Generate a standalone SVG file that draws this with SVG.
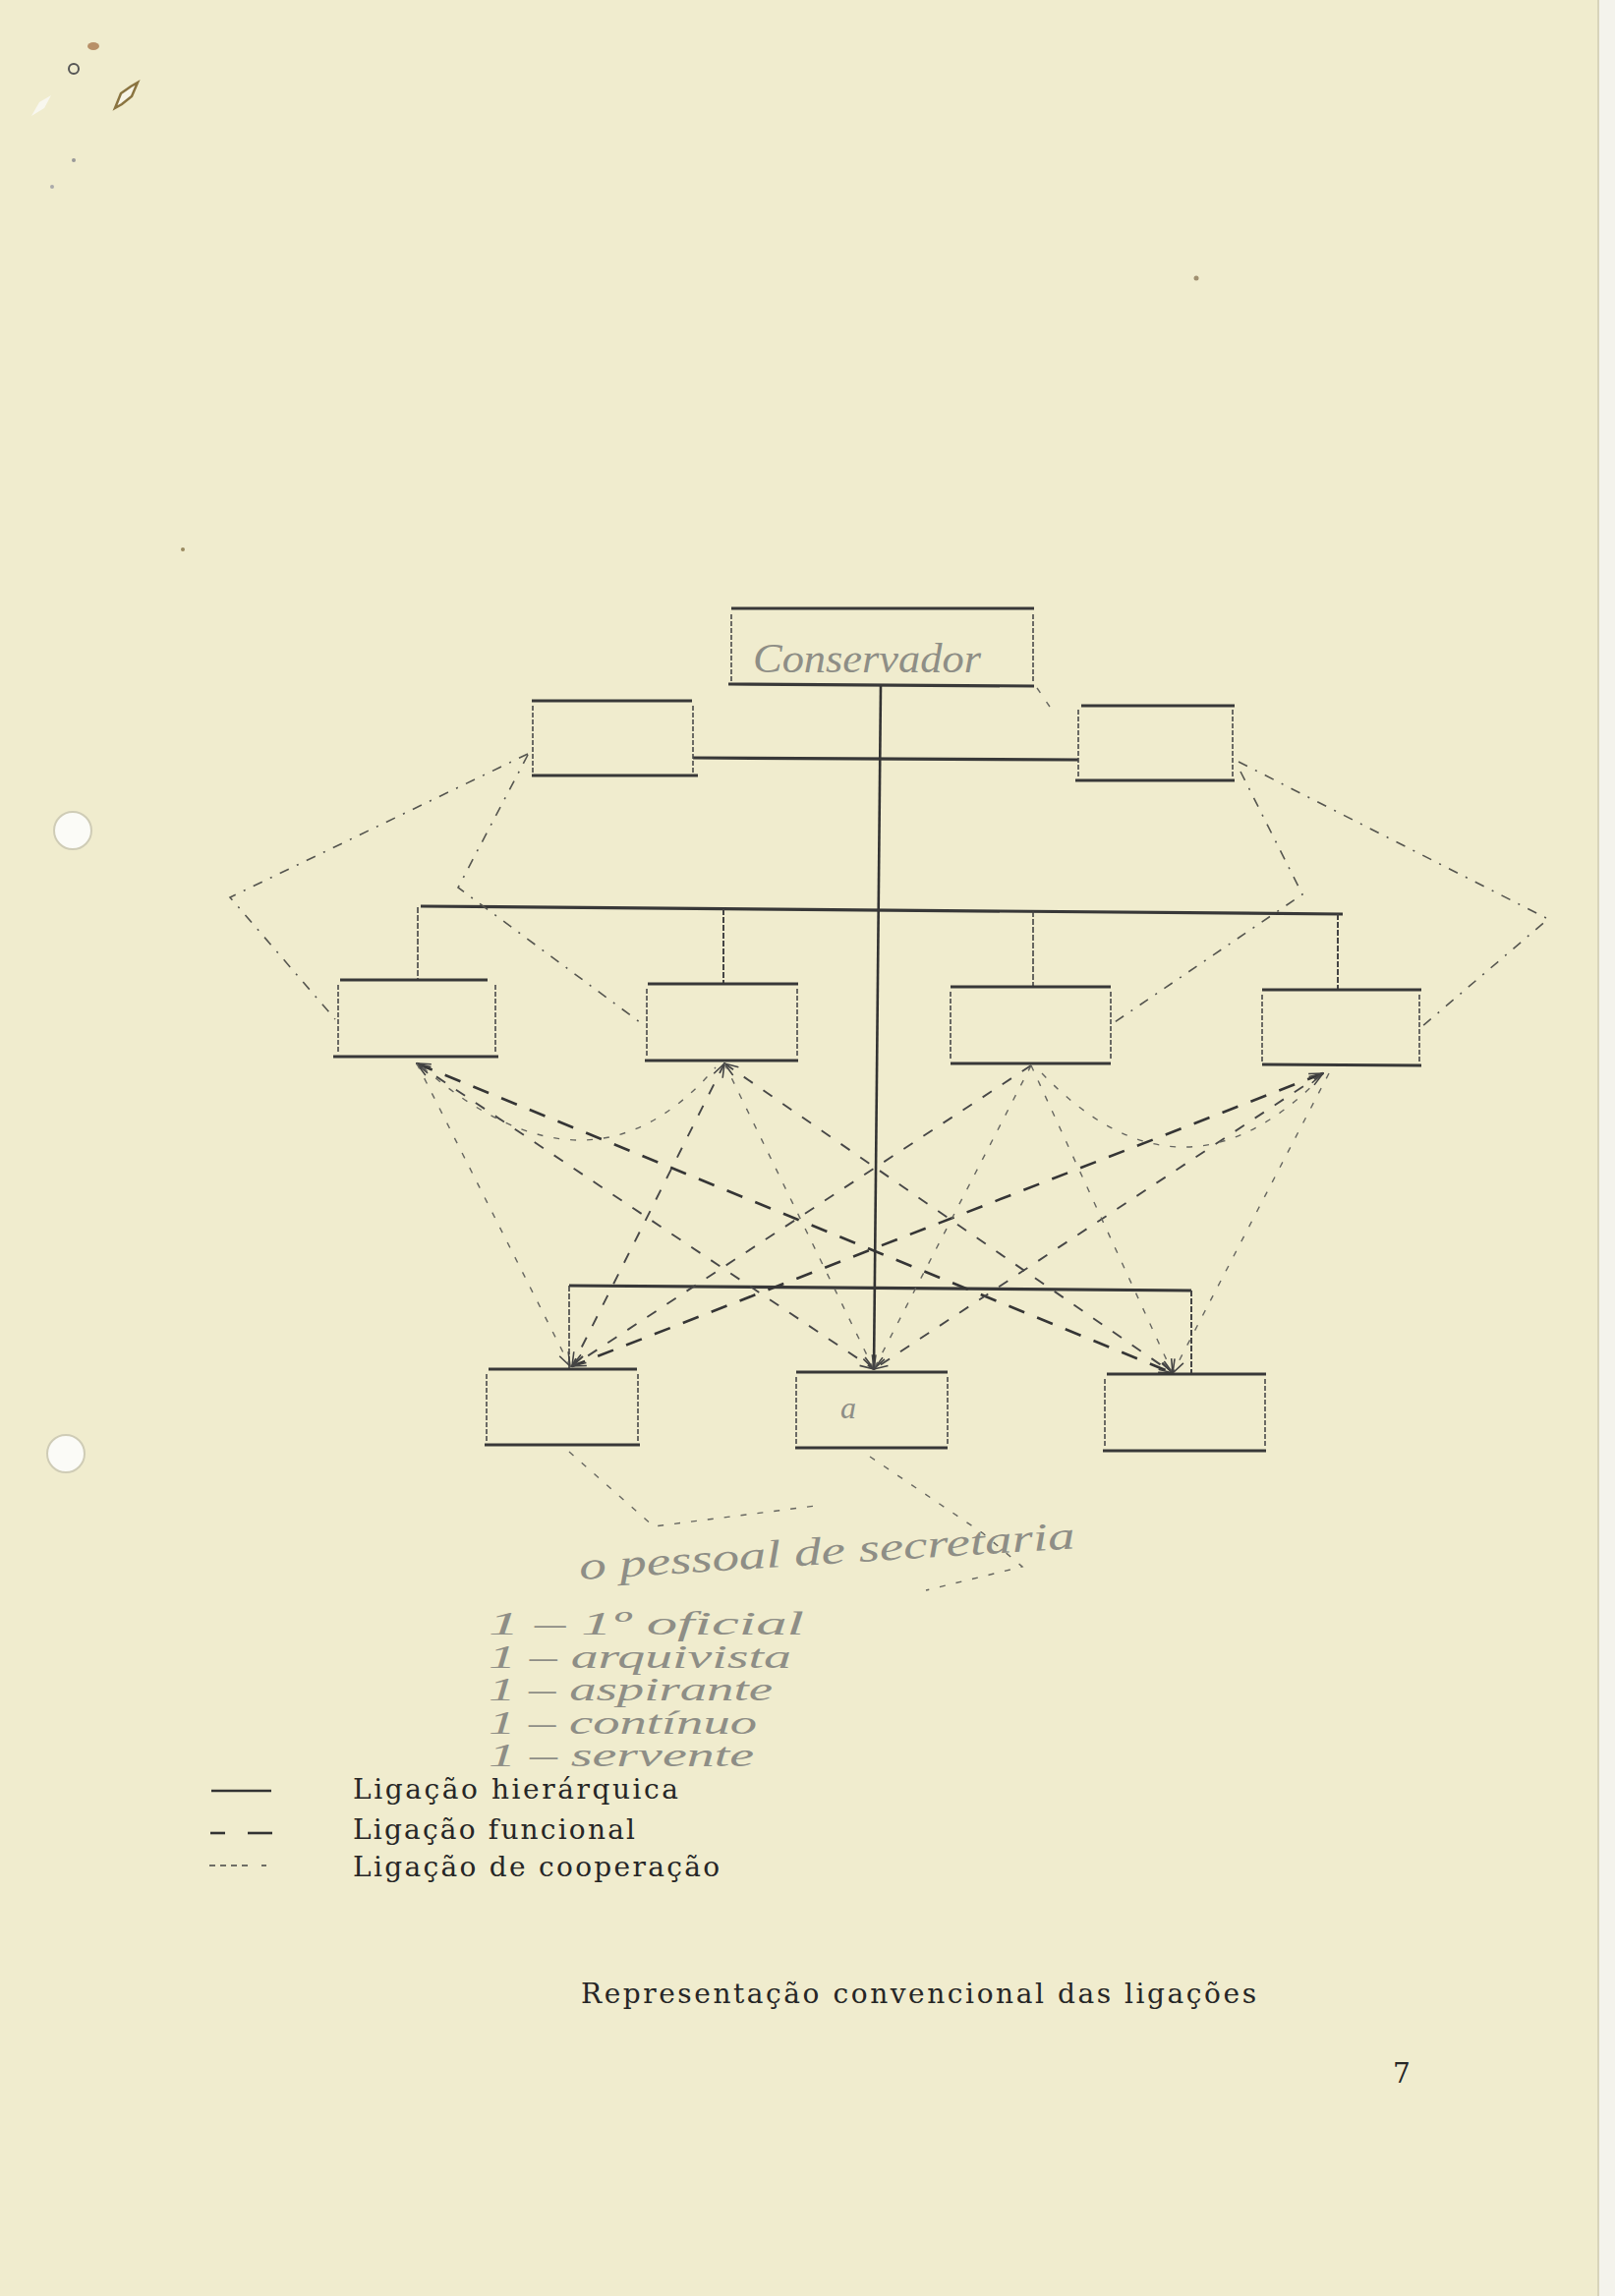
<svg xmlns="http://www.w3.org/2000/svg" width="1643" height="2336" viewBox="0 0 1643 2336">
<defs>
<style>
.bt{stroke:#383838;stroke-width:3.2;fill:none}
.bs{stroke:#4a4a4a;stroke-width:1.6;stroke-dasharray:5 2;fill:none}
.hier{stroke:#333;stroke-width:2.6;fill:none}
.drop{stroke:#444;stroke-width:1.6;stroke-dasharray:6 2;fill:none}
.funH{stroke:#353535;stroke-width:2.6;stroke-dasharray:17 14;fill:none}
.fun{stroke:#474747;stroke-width:1.9;stroke-dasharray:11 13;fill:none}
.coop{stroke:#666660;stroke-width:1.4;stroke-dasharray:6 11;fill:none}
.coop2{stroke:#55554f;stroke-width:1.6;stroke-dasharray:10 9 2 9;fill:none}
.hand{font-family:"Liberation Serif",serif;font-style:italic;fill:#8e8e86}
.type{font-family:"DejaVu Serif","Liberation Serif",serif;fill:#262626;font-size:28px}
</style>
<marker id="ah" viewBox="0 0 16 12" refX="15" refY="6" markerWidth="16" markerHeight="12" markerUnits="userSpaceOnUse" orient="auto-start-reverse">
<path d="M1,1 L15,6 L1,11" fill="none" stroke="#444" stroke-width="1.6"/>
</marker>
</defs>

<g id="paper">
<rect x="0" y="0" width="1643" height="2336" fill="#f0ecce"/>
<rect x="1626" y="0" width="17" height="2336" fill="#f4f3ec"/>
<line x1="1626" y1="0" x2="1626" y2="2336" stroke="#d8d4bb" stroke-width="2"/>
<circle cx="74" cy="845" r="19" fill="#fbfbf7" stroke="#cfccb6" stroke-width="2"/>
<circle cx="67" cy="1479" r="19" fill="#fbfbf7" stroke="#cfccb6" stroke-width="2"/>
<circle cx="75" cy="70" r="5" fill="none" stroke="#555" stroke-width="2"/>
<path d="M117,110 L123,95 L133,88 L140,84 L134,98 L124,106 Z" fill="#f8f5e6" stroke="#8a7440" stroke-width="2.5"/>
<ellipse cx="95" cy="47" rx="6" ry="4" fill="#b89068"/>
<path d="M32,118 L40,104 L52,97 L45,110 Z" fill="#f8f7ef"/>
<circle cx="75" cy="163" r="2" fill="#999"/>
<circle cx="53" cy="190" r="2" fill="#aaa"/>
<circle cx="186" cy="559" r="2" fill="#9a8a60"/>
<circle cx="1217" cy="283" r="2.5" fill="#a09070"/>
</g>

<g id="connectors">
<g id="hierarchy">
<path class="hier" d="M896,697 L889,1394"/>
<path class="bt" d="M705,771 L1097,773"/>
<path class="bt" d="M428,922 L1366,930"/>
<path class="drop" d="M425,923 L425,997"/>
<path class="drop" d="M736,925 L736,1001" style="stroke-width:2"/>
<path class="drop" d="M1051,927 L1051,1004"/>
<path class="drop" d="M1361,930 L1361,1007" style="stroke-width:2"/>
<path class="bt" d="M579,1308 L1212,1313"/>
<path class="drop" d="M579,1308 L579,1393"/>
<path class="drop" d="M1212,1313 L1212,1398" style="stroke-width:2"/>
</g>
<g id="cooperation-outer">
<path class="coop2" d="M537,767 L234,913 L341,1037"/>
<path class="coop2" d="M537,768 L466,903 L655,1043"/>
<path class="coop2" d="M1260,775 L1575,935 L1446,1045"/>
<path class="coop2" d="M1262,785 L1325,910 L1131,1042"/>
<path class="coop" d="M1055,700 L1070,722"/>
</g>
<g id="functional">
<line class="funH" x1="424" y1="1082" x2="1193" y2="1397" marker-start="url(#ah)" marker-end="url(#ah)"/>
<line class="funH" x1="1346" y1="1092" x2="582" y2="1390" marker-start="url(#ah)" marker-end="url(#ah)"/>
<line class="fun" x1="424" y1="1082" x2="889" y2="1393" marker-start="url(#ah)" marker-end="url(#ah)"/>
<line class="fun" x1="737" y1="1082" x2="582" y2="1390" marker-start="url(#ah)" marker-end="url(#ah)"/>
<line class="fun" x1="737" y1="1082" x2="1193" y2="1397" marker-start="url(#ah)" marker-end="url(#ah)"/>
<line class="fun" x1="1049" y1="1084" x2="582" y2="1390" marker-end="url(#ah)"/>
<line class="fun" x1="1346" y1="1092" x2="889" y2="1393" marker-start="url(#ah)" marker-end="url(#ah)"/>
</g>
<g id="cooperation">
<line class="coop" x1="424" y1="1082" x2="580" y2="1390" marker-end="url(#ah)"/>
<line class="coop" x1="737" y1="1082" x2="889" y2="1393" marker-end="url(#ah)"/>
<line class="coop" x1="1049" y1="1084" x2="889" y2="1393" marker-end="url(#ah)"/>
<line class="coop" x1="1049" y1="1084" x2="1193" y2="1397" marker-end="url(#ah)"/>
<line class="coop" x1="1352" y1="1092" x2="1193" y2="1397" marker-end="url(#ah)"/>
<path class="coop" d="M430,1086 Q601,1234 728,1086"/>
<path class="coop" d="M1060,1092 Q1200,1238 1340,1100"/>
<path class="coop" d="M579,1477 L665,1553 L830,1532"/>
<path class="coop" d="M885,1482 L1000,1560 L1040,1594 L942,1618"/>
</g>
</g>

<g id="node-conservador">
<line class="bt" x1="744" y1="619" x2="1052" y2="619"/>
<line class="bt" x1="741" y1="696" x2="1052" y2="698"/>
<line class="bs" x1="744" y1="625" x2="744" y2="693"/>
<line class="bs" x1="1051" y1="625" x2="1051" y2="693"/>
<text class="hand" x="766" y="684" font-size="42" textLength="232" lengthAdjust="spacingAndGlyphs">Conservador</text>
</g>
<g id="node-upper-left">
<line class="bt" x1="541" y1="713" x2="704" y2="713"/>
<line class="bt" x1="541" y1="789" x2="710" y2="789"/>
<line class="bs" x1="542" y1="718" x2="542" y2="786"/>
<line class="bs" x1="705" y1="718" x2="705" y2="786"/>
</g>
<g id="node-upper-right">
<line class="bt" x1="1100" y1="718" x2="1256" y2="718"/>
<line class="bt" x1="1094" y1="794" x2="1256" y2="794"/>
<line class="bs" x1="1097" y1="722" x2="1097" y2="791"/>
<line class="bs" x1="1254" y1="722" x2="1254" y2="791"/>
</g>
<g id="node-m1">
<line class="bt" x1="346" y1="997" x2="496" y2="997"/>
<line class="bt" x1="339" y1="1075" x2="507" y2="1075"/>
<line class="bs" x1="344" y1="1002" x2="344" y2="1072"/>
<line class="bs" x1="504" y1="1002" x2="504" y2="1072"/>
</g>
<g id="node-m2">
<line class="bt" x1="659" y1="1001" x2="812" y2="1001"/>
<line class="bt" x1="656" y1="1079" x2="812" y2="1079"/>
<line class="bs" x1="658" y1="1006" x2="658" y2="1076"/>
<line class="bs" x1="811" y1="1006" x2="811" y2="1076"/>
</g>
<g id="node-m3">
<line class="bt" x1="967" y1="1004" x2="1130" y2="1004"/>
<line class="bt" x1="967" y1="1082" x2="1130" y2="1082"/>
<line class="bs" x1="967" y1="1009" x2="967" y2="1079"/>
<line class="bs" x1="1130" y1="1009" x2="1130" y2="1079"/>
</g>
<g id="node-m4">
<line class="bt" x1="1284" y1="1007" x2="1446" y2="1007"/>
<line class="bt" x1="1284" y1="1083" x2="1446" y2="1084"/>
<line class="bs" x1="1284" y1="1012" x2="1284" y2="1080"/>
<line class="bs" x1="1444" y1="1012" x2="1444" y2="1080"/>
</g>
<g id="node-b1">
<line class="bt" x1="497" y1="1393" x2="648" y2="1393"/>
<line class="bt" x1="493" y1="1470" x2="651" y2="1470"/>
<line class="bs" x1="495" y1="1398" x2="495" y2="1467"/>
<line class="bs" x1="649" y1="1398" x2="649" y2="1467"/>
</g>
<g id="node-b2">
<line class="bt" x1="810" y1="1396" x2="964" y2="1396"/>
<line class="bt" x1="809" y1="1473" x2="964" y2="1473"/>
<line class="bs" x1="810" y1="1401" x2="810" y2="1470"/>
<line class="bs" x1="964" y1="1401" x2="964" y2="1470"/>
<text class="hand" x="855" y="1443" font-size="32">a</text>
</g>
<g id="node-b3">
<line class="bt" x1="1126" y1="1398" x2="1288" y2="1398"/>
<line class="bt" x1="1122" y1="1476" x2="1288" y2="1476"/>
<line class="bs" x1="1124" y1="1403" x2="1124" y2="1473"/>
<line class="bs" x1="1287" y1="1403" x2="1287" y2="1473"/>
</g>

<g id="handwritten-notes" class="hand">
<text x="590" y="1607" font-size="40" textLength="505" lengthAdjust="spacingAndGlyphs" transform="rotate(-3.6 590 1607)">o pessoal de secretaria</text>
<text x="497" y="1663" font-size="34" textLength="321" lengthAdjust="spacingAndGlyphs">1 – 1º oficial</text>
<text x="497" y="1697" font-size="34" textLength="308" lengthAdjust="spacingAndGlyphs">1 – arquivista</text>
<text x="497" y="1730" font-size="34" textLength="289" lengthAdjust="spacingAndGlyphs">1 – aspirante</text>
<text x="497" y="1764" font-size="34" textLength="273" lengthAdjust="spacingAndGlyphs">1 – contínuo</text>
<text x="497" y="1797" font-size="34" textLength="270" lengthAdjust="spacingAndGlyphs">1 – servente</text>
</g>

<g id="legend">
<line x1="215" y1="1822" x2="276" y2="1822" stroke="#333" stroke-width="2.6"/>
<line x1="214" y1="1865" x2="229" y2="1865" stroke="#333" stroke-width="2.6"/>
<line x1="252" y1="1865" x2="277" y2="1865" stroke="#333" stroke-width="2.6"/>
<path d="M213,1898 h6 M224,1898 h6 M235,1898 h6 M246,1898 h6 M266,1898 h5" stroke="#444" stroke-width="1.6"/>
<text class="type" x="359" y="1830" textLength="331" lengthAdjust="spacing">Ligação hierárquica</text>
<text class="type" x="359" y="1871" textLength="287" lengthAdjust="spacing">Ligação funcional</text>
<text class="type" x="359" y="1909" textLength="373" lengthAdjust="spacing">Ligação de cooperação</text>
</g>

<text class="type" x="591" y="2038" textLength="687" lengthAdjust="spacing">Representação convencional das ligações</text>
<text class="type" x="1417" y="2119" font-size="33">7</text>
</svg>
